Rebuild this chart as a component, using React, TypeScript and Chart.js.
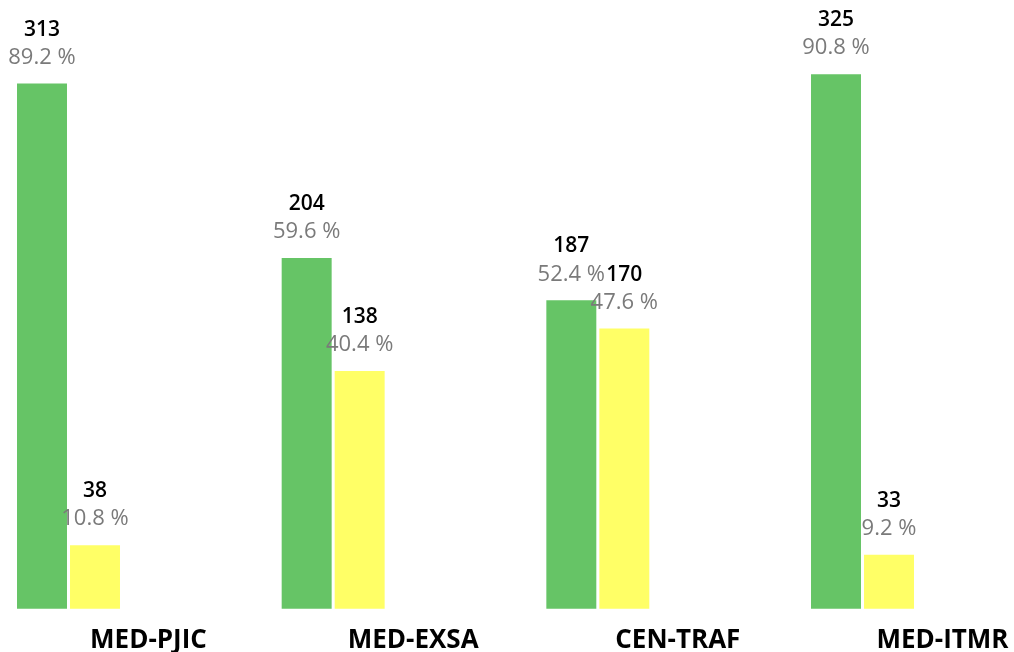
import React, { useEffect, useRef } from "react";
import { Chart, registerables } from "chart.js";

Chart.register(...registerables);

const categories = ["MED-PJIC", "MED-EXSA", "CEN-TRAF", "MED-ITMR"];
const greenPercent = [89.2, 59.6, 52.4, 90.8];
const yellowPercent = [10.8, 40.4, 47.6, 9.2];
const greenCounts = [313, 204, 187, 325];
const yellowCounts = [38, 138, 170, 33];

const FONT = "'Open Sans', Lato, sans-serif";

const labelPlugin = {
  id: "barLabels",
  afterDatasetsDraw(chart: any) {
    const ctx = chart.ctx;
    const countsList = [greenCounts, yellowCounts];
    const pctList = [greenPercent, yellowPercent];
    chart.data.datasets.forEach((_ds: any, di: number) => {
      const meta = chart.getDatasetMeta(di);
      meta.data.forEach((bar: any, i: number) => {
        const x = bar.x;
        const top = bar.y;
        ctx.save();
        ctx.textAlign = "center";
        ctx.textBaseline = "middle";
        ctx.fillStyle = "#000000";
        ctx.font = `600 21px ${FONT}`;
        ctx.fillText(String(countsList[di][i]), x, top - 54);
        ctx.fillStyle = "#7a7a7a";
        ctx.font = `22px ${FONT}`;
        ctx.fillText(`${pctList[di][i].toFixed(1)} %`, x, top - 26);
        ctx.restore();
      });
    });
  },
};

export default function App() {
  const ref = useRef<HTMLCanvasElement>(null);
  useEffect(() => {
    document.body.style.margin = "0";
    const chart = new Chart(ref.current!, {
      type: "bar",
      data: {
        labels: categories,
        datasets: [
          {
            data: greenPercent,
            backgroundColor: "#66c466",
            categoryPercentage: 0.4005,
            barPercentage: 0.943,
            clip: false as any,
          },
          {
            data: yellowPercent,
            backgroundColor: "#ffff66",
            categoryPercentage: 0.4005,
            barPercentage: 0.943,
            clip: false as any,
          },
        ],
      },
      options: {
        animation: false,
        responsive: false,
        layout: { padding: { left: 68.5, right: 151.5, top: 20, bottom: -20 } },
        plugins: { legend: { display: false }, tooltip: { enabled: false } },
        scales: {
          x: {
            offset: false,
            border: { display: false },
            grid: { display: false, drawTicks: false },
            afterFit: (scale: any) => {
              scale.paddingLeft = 0;
              scale.paddingRight = 0;
            },
            ticks: {
              autoSkip: false,
              maxRotation: 0,
              padding: 16,
              labelOffset: 80,
              color: "#000000",
              font: { family: FONT, size: 26, weight: "bold" },
            },
          },
          y: {
            display: false,
            min: 0,
            max: 100,
          },
        },
      },
      plugins: [labelPlugin],
    });
    return () => chart.destroy();
  }, []);
  return (
    <div style={{ position: "absolute", left: 0, top: 0, width: 1014, height: 652 }}>
      <canvas ref={ref} width={1014} height={652} style={{ width: 1014, height: 652 }} />
    </div>
  );
}
